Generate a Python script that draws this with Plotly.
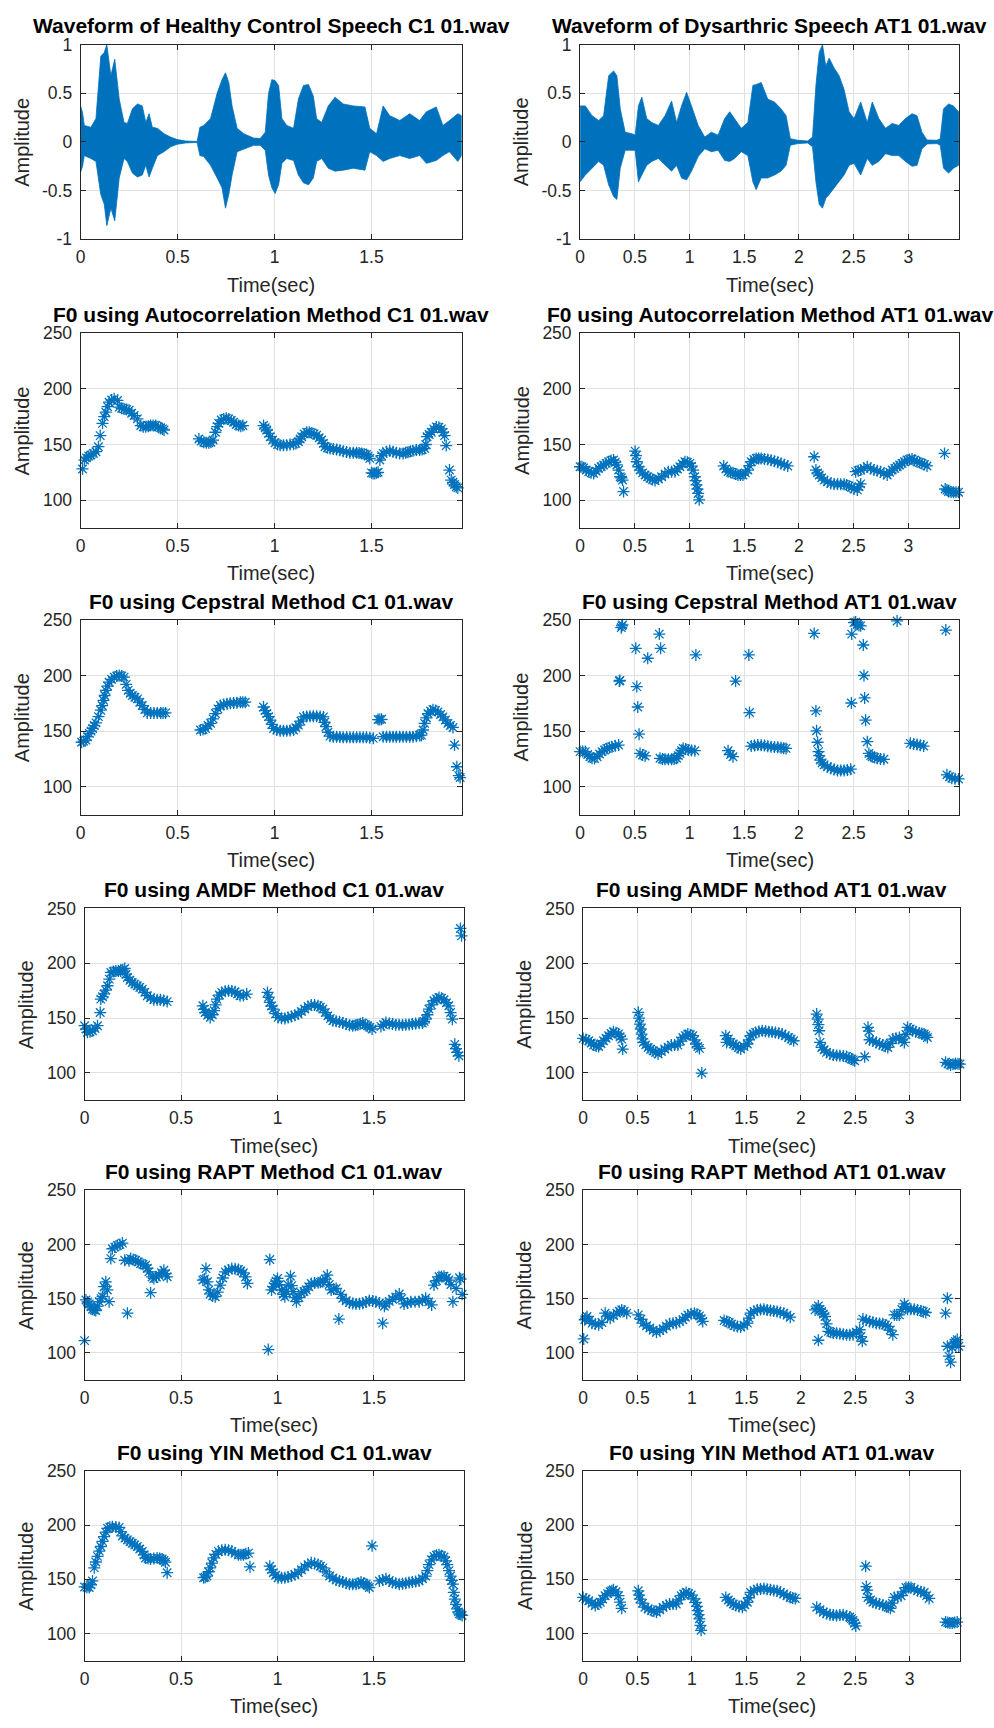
import plotly.graph_objects as go

BLUE = "#0072BD"
AXIS_COLOR = "#262626"
GRID_COLOR = "#e1e1e1"
FONT = "Liberation Sans, Arial, Helvetica, sans-serif"
W, H = 994, 1728

# ---- waveform envelopes: (time s, upper amplitude, lower amplitude) ----
wave_c1 = [
    (0.000, 0.37, -0.31), (0.010, 0.30, -0.25), (0.019, 0.17, -0.14), (0.053, 0.15, -0.17),
    (0.079, 0.24, -0.20), (0.104, 0.88, -0.54), (0.122, 0.92, -0.64), (0.135, 1.00, -0.86),
    (0.156, 0.68, -0.68), (0.176, 0.85, -0.81), (0.199, 0.44, -0.37), (0.224, 0.20, -0.17),
    (0.241, 0.19, -0.20), (0.267, 0.34, -0.32), (0.293, 0.39, -0.36), (0.318, 0.37, -0.34),
    (0.336, 0.20, -0.24), (0.353, 0.29, -0.36), (0.370, 0.15, -0.27), (0.396, 0.14, -0.14),
    (0.430, 0.085, -0.10), (0.464, 0.05, -0.05), (0.498, 0.024, -0.024), (0.541, 0.01, -0.01),
    (0.601, 0.005, -0.005), (0.615, 0.15, -0.14), (0.635, 0.17, -0.15), (0.670, 0.24, -0.24),
    (0.704, 0.50, -0.37), (0.729, 0.64, -0.47), (0.747, 0.71, -0.68), (0.764, 0.61, -0.54),
    (0.781, 0.37, -0.34), (0.807, 0.14, -0.10), (0.841, 0.085, -0.07), (0.892, 0.04, -0.035),
    (0.926, 0.035, -0.035), (0.952, 0.10, -0.085), (0.969, 0.50, -0.34), (0.986, 0.64, -0.47),
    (1.003, 0.63, -0.53), (1.021, 0.58, -0.44), (1.038, 0.24, -0.22), (1.063, 0.17, -0.17),
    (1.098, 0.14, -0.19), (1.123, 0.44, -0.34), (1.149, 0.58, -0.42), (1.175, 0.59, -0.44),
    (1.200, 0.47, -0.37), (1.217, 0.24, -0.20), (1.243, 0.20, -0.17), (1.277, 0.37, -0.27),
    (1.312, 0.46, -0.30), (1.354, 0.39, -0.29), (1.406, 0.37, -0.27), (1.466, 0.36, -0.29),
    (1.491, 0.14, -0.10), (1.526, 0.085, -0.14), (1.560, 0.37, -0.20), (1.594, 0.27, -0.17),
    (1.646, 0.22, -0.14), (1.697, 0.29, -0.17), (1.748, 0.22, -0.14), (1.783, 0.31, -0.22),
    (1.834, 0.36, -0.19), (1.868, 0.17, -0.14), (1.902, 0.22, -0.10), (1.945, 0.29, -0.20),
    (1.964, 0.27, -0.14),
]

wave_at1 = [
    (0.000, 0.37, -0.41), (0.048, 0.37, -0.34), (0.109, 0.27, -0.27), (0.170, 0.22, -0.20),
    (0.215, 0.27, -0.24), (0.261, 0.68, -0.44), (0.306, 0.73, -0.56), (0.336, 0.68, -0.59),
    (0.367, 0.34, -0.27), (0.412, 0.10, -0.085), (0.473, 0.085, -0.085), (0.503, 0.07, -0.085),
    (0.533, 0.37, -0.41), (0.564, 0.46, -0.34), (0.609, 0.24, -0.24), (0.655, 0.20, -0.20),
    (0.715, 0.17, -0.17), (0.776, 0.27, -0.24), (0.836, 0.42, -0.30), (0.882, 0.20, -0.24),
    (0.927, 0.37, -0.37), (0.973, 0.51, -0.39), (1.018, 0.37, -0.30), (1.079, 0.17, -0.15),
    (1.139, 0.05, -0.07), (1.200, 0.10, -0.10), (1.261, 0.07, -0.085), (1.321, 0.24, -0.19),
    (1.367, 0.31, -0.20), (1.412, 0.24, -0.17), (1.473, 0.14, -0.10), (1.533, 0.20, -0.14),
    (1.579, 0.58, -0.41), (1.609, 0.59, -0.49), (1.655, 0.61, -0.37), (1.715, 0.44, -0.37),
    (1.776, 0.41, -0.34), (1.836, 0.34, -0.30), (1.882, 0.27, -0.24), (1.921, 0.034, -0.034),
    (1.988, 0.017, -0.017), (2.079, 0.01, -0.01), (2.124, 0.05, -0.05), (2.155, 0.58, -0.41),
    (2.185, 0.92, -0.64), (2.215, 1.00, -0.68), (2.245, 0.78, -0.58), (2.276, 0.86, -0.54),
    (2.321, 0.76, -0.47), (2.367, 0.68, -0.41), (2.412, 0.54, -0.34), (2.458, 0.31, -0.24),
    (2.503, 0.24, -0.22), (2.564, 0.41, -0.34), (2.624, 0.20, -0.17), (2.670, 0.41, -0.24),
    (2.730, 0.24, -0.20), (2.791, 0.14, -0.12), (2.852, 0.19, -0.14), (2.912, 0.17, -0.14),
    (2.973, 0.24, -0.20), (3.033, 0.29, -0.25), (3.079, 0.27, -0.24), (3.124, 0.10, -0.07),
    (3.170, 0.02, -0.02), (3.261, 0.017, -0.017), (3.291, 0.034, -0.034), (3.321, 0.34, -0.27),
    (3.367, 0.39, -0.32), (3.412, 0.37, -0.27), (3.458, 0.31, -0.24),
]

# ---- F0 tracks: (time s, F0 Hz) ----
f0_c1_autocorr = [
    (0.010, 128), (0.020, 136), (0.030, 138), (0.042, 139.5), (0.053, 140.5), (0.066, 142),
    (0.079, 143.5), (0.092, 148), (0.101, 158), (0.113, 169), (0.122, 175), (0.130, 179),
    (0.139, 184), (0.147, 188), (0.160, 190), (0.173, 191), (0.190, 189.6), (0.199, 183.6),
    (0.212, 182.5), (0.224, 182), (0.237, 181.5), (0.250, 180.7), (0.263, 178), (0.276, 176),
    (0.293, 173), (0.310, 167), (0.323, 166), (0.336, 166), (0.349, 166.5), (0.361, 167),
    (0.374, 167), (0.387, 167), (0.400, 166), (0.413, 165), (0.422, 164), (0.430, 163),
    (0.610, 155), (0.622, 153), (0.635, 152), (0.648, 151.5), (0.661, 151.5), (0.672, 152),
    (0.683, 154), (0.695, 161), (0.705, 166), (0.712, 169), (0.725, 172), (0.738, 173),
    (0.751, 173.5), (0.764, 173), (0.777, 171.5), (0.789, 170), (0.802, 168), (0.815, 167),
    (0.826, 166.5), (0.837, 167),
    (0.943, 167), (0.952, 165), (0.960, 163), (0.969, 160), (0.978, 157), (0.990, 154),
    (1.003, 151.5), (1.016, 150), (1.029, 149.4), (1.046, 149.4), (1.063, 149.4), (1.080, 150),
    (1.098, 150.3), (1.110, 151), (1.123, 152.4), (1.132, 155), (1.140, 157), (1.153, 159.5),
    (1.166, 161), (1.179, 161), (1.192, 160.4), (1.204, 159.5), (1.217, 158.3), (1.230, 156),
    (1.243, 154), (1.252, 151), (1.260, 148), (1.273, 147), (1.286, 146.4), (1.303, 146),
    (1.320, 145.5), (1.337, 144.8), (1.354, 144), (1.371, 143.2), (1.389, 142.6), (1.406, 142.6),
    (1.423, 142.6), (1.436, 142.3), (1.449, 142), (1.462, 141.5), (1.474, 141), (1.483, 139.5),
    (1.491, 137.5), (1.500, 124.5), (1.508, 124), (1.517, 124), (1.526, 124.5), (1.534, 125),
    (1.543, 136), (1.552, 140), (1.560, 142), (1.577, 143.5), (1.594, 144.4), (1.611, 143.5),
    (1.628, 142.6), (1.645, 142), (1.663, 142), (1.676, 142.5), (1.688, 143), (1.701, 144),
    (1.714, 144.4), (1.731, 145), (1.748, 145), (1.761, 145.5), (1.774, 146.4), (1.780, 150),
    (1.786, 157), (1.797, 159), (1.808, 161), (1.821, 164), (1.834, 165.8), (1.847, 165.5),
    (1.860, 164), (1.869, 161), (1.877, 158), (1.885, 149), (1.902, 127), (1.911, 118),
    (1.920, 116), (1.928, 114), (1.937, 112), (1.945, 111),
]

f0_at1_autocorr = [
    (0.000, 130), (0.017, 130), (0.033, 129), (0.056, 127), (0.079, 125.6), (0.101, 124.5),
    (0.124, 124), (0.147, 126), (0.170, 128.6), (0.192, 130), (0.215, 131.6), (0.238, 133),
    (0.261, 134.5), (0.283, 135.5), (0.306, 136), (0.321, 134), (0.336, 131.6), (0.352, 127),
    (0.367, 121), (0.378, 120), (0.388, 118), (0.397, 107.7),
    (0.503, 144), (0.510, 140), (0.518, 134.5), (0.533, 130), (0.548, 127), (0.571, 124.5),
    (0.594, 122.6), (0.617, 121), (0.639, 119.7), (0.662, 118.5), (0.685, 117.6), (0.715, 119),
    (0.745, 121), (0.776, 123.5), (0.806, 125.6), (0.836, 125.6), (0.867, 125.6), (0.890, 128),
    (0.912, 130), (0.935, 132.5), (0.958, 134.5), (0.980, 134), (1.003, 133), (1.018, 130.5),
    (1.033, 127), (1.048, 121), (1.056, 117.5), (1.064, 113.7), (1.072, 110), (1.079, 106),
    (1.088, 100.3),
    (1.312, 130.7), (1.332, 128), (1.352, 125.6), (1.375, 125), (1.397, 124.7), (1.420, 123.5),
    (1.442, 122.6), (1.465, 122.6), (1.488, 122.6), (1.510, 124.5), (1.533, 127), (1.548, 131),
    (1.564, 134.5), (1.587, 136.5), (1.609, 137.5), (1.632, 137.5), (1.655, 137.5), (1.685, 137),
    (1.715, 136.6), (1.745, 135.8), (1.776, 135), (1.806, 134), (1.836, 133), (1.866, 131.8),
    (1.897, 130.7),
    (2.139, 139), (2.155, 127), (2.170, 124.5), (2.185, 122.6), (2.208, 120), (2.230, 118),
    (2.260, 116.5), (2.291, 115), (2.321, 114.6), (2.352, 114.3), (2.382, 114.3), (2.412, 114.3),
    (2.435, 113.5), (2.458, 112.8), (2.480, 111.5), (2.503, 110), (2.533, 109.2), (2.548, 112),
    (2.564, 114.6),
    (2.518, 125.6), (2.541, 126.5), (2.564, 127), (2.594, 128.5), (2.624, 130), (2.655, 128.5),
    (2.685, 127), (2.715, 126.3), (2.745, 125.6), (2.776, 124), (2.806, 122.6), (2.829, 125),
    (2.852, 127), (2.875, 128.5), (2.897, 130), (2.920, 131.5), (2.942, 133), (2.965, 134.5),
    (2.988, 136), (3.010, 136.5), (3.033, 137), (3.056, 135.8), (3.079, 134.5), (3.102, 133.8),
    (3.124, 133), (3.147, 132), (3.170, 130.7),
    (3.330, 142), (3.336, 110), (3.352, 109), (3.367, 107.7), (3.390, 107.3), (3.412, 107),
    (3.435, 107), (3.458, 107),
]

f0_c1_cepstral = [
    (0.005, 140), (0.016, 141), (0.027, 142), (0.036, 145), (0.045, 148), (0.054, 150),
    (0.062, 152.4), (0.070, 155), (0.079, 157.4), (0.092, 163), (0.104, 168.8), (0.111, 173),
    (0.118, 177.7), (0.124, 182), (0.130, 186.6), (0.139, 190.5), (0.147, 194), (0.160, 196.5),
    (0.173, 198.5), (0.186, 199.5), (0.199, 200), (0.212, 199.5), (0.224, 198.5), (0.235, 192),
    (0.245, 186.6), (0.256, 184), (0.267, 182), (0.280, 180.5), (0.293, 179), (0.305, 176),
    (0.318, 173), (0.331, 169.5), (0.344, 166.4), (0.361, 166.4), (0.378, 166.4), (0.395, 166.4),
    (0.413, 166.4), (0.425, 166.4), (0.438, 166.4),
    (0.618, 151), (0.631, 151.5), (0.644, 152.4), (0.657, 155), (0.670, 157), (0.683, 161),
    (0.695, 165.8), (0.708, 170), (0.721, 173), (0.738, 174), (0.755, 174.7), (0.772, 175),
    (0.789, 175.3), (0.806, 175.6), (0.824, 176), (0.836, 176), (0.849, 176),
    (0.943, 171.7), (0.952, 168.5), (0.960, 165.8), (0.969, 163), (0.978, 159.8), (0.986, 156),
    (0.995, 152.4), (1.012, 151), (1.029, 150.3), (1.046, 150.3), (1.063, 150.3), (1.080, 150.5),
    (1.098, 151), (1.110, 153), (1.123, 155.4), (1.136, 159), (1.149, 162.8), (1.166, 163.2),
    (1.183, 163.4), (1.200, 163.4), (1.217, 163.4), (1.235, 163.2), (1.252, 162.8), (1.258, 158),
    (1.265, 154), (1.275, 149), (1.286, 145.5), (1.303, 145), (1.320, 145), (1.337, 144.7),
    (1.354, 144.5), (1.372, 144.4), (1.389, 144.4), (1.406, 144.4), (1.423, 144.4), (1.440, 144.4),
    (1.457, 144.4), (1.474, 144.4), (1.491, 144), (1.509, 143.5), (1.534, 160.4), (1.543, 160.4),
    (1.552, 160.6), (1.560, 145), (1.577, 145), (1.594, 145), (1.611, 145), (1.628, 145),
    (1.645, 145), (1.663, 145), (1.680, 145), (1.697, 145), (1.714, 145), (1.731, 145.5),
    (1.748, 146), (1.757, 146.4), (1.766, 151), (1.774, 157), (1.783, 162), (1.791, 165.8),
    (1.804, 168), (1.817, 169.3), (1.830, 168.5), (1.843, 167.3), (1.856, 165), (1.868, 162.8),
    (1.881, 160), (1.894, 157), (1.907, 155), (1.920, 153.3), (1.928, 137.5), (1.940, 118),
    (1.950, 110), (1.957, 108.3),
]

f0_at1_cepstral = [
    (0.000, 131.6), (0.024, 131.6), (0.048, 131.6), (0.070, 129), (0.090, 127), (0.109, 125.6),
    (0.132, 125.5), (0.155, 127), (0.178, 129.5), (0.200, 131.6), (0.223, 133), (0.245, 134.5),
    (0.268, 135.3), (0.291, 136), (0.321, 136.8), (0.352, 137.5),
    (0.358, 195), (0.364, 195.5), (0.376, 243), (0.382, 244.6), (0.388, 245.5),
    (0.509, 224.4), (0.518, 190), (0.527, 171.7), (0.539, 147.3),
    (0.548, 130), (0.571, 128.5), (0.594, 127.7), (0.618, 215.5), (0.724, 237.2), (0.736, 224.4),
    (0.730, 125.6), (0.753, 125), (0.776, 124.7), (0.806, 124.7), (0.836, 124.7), (0.859, 125),
    (0.882, 125.6), (0.897, 128), (0.912, 130), (0.927, 132.5), (0.942, 134.5), (0.965, 134),
    (0.988, 133), (1.018, 132.7), (1.048, 132.4), (1.058, 218.5),
    (1.352, 132.4), (1.375, 129), (1.397, 127), (1.421, 195), (1.542, 218.5), (1.548, 166.7),
    (1.564, 136.6), (1.594, 137), (1.624, 137.5), (1.655, 137.3), (1.685, 137), (1.715, 136.5),
    (1.745, 136), (1.776, 135.7), (1.806, 135.4), (1.836, 135), (1.860, 134.7), (1.882, 134.5),
    (2.139, 237.8), (2.155, 168.2), (2.161, 150.3), (2.170, 140), (2.179, 131.6), (2.185, 128),
    (2.194, 124), (2.212, 121.5), (2.230, 119.7), (2.260, 118), (2.291, 116.7), (2.321, 115.5),
    (2.352, 114.6), (2.382, 114.6), (2.412, 114.6), (2.442, 115), (2.473, 115.8),
    (2.479, 175.3), (2.482, 237.2), (2.503, 247.6), (2.518, 248), (2.533, 246), (2.548, 245),
    (2.564, 244.6), (2.588, 227.4), (2.594, 200), (2.600, 179.8), (2.609, 159.8), (2.624, 140.5),
    (2.639, 130), (2.655, 128), (2.670, 127), (2.692, 126.3), (2.715, 125.6), (2.745, 125),
    (2.776, 124.7), (2.897, 249),
    (3.018, 139), (3.048, 138.5), (3.079, 138), (3.109, 137.3), (3.139, 136.6),
    (3.342, 240.8), (3.352, 110.7), (3.375, 109), (3.397, 107.7), (3.427, 107.3), (3.458, 107),
]

f0_c1_amdf = [
    (0.000, 143), (0.008, 140), (0.015, 137), (0.028, 137.5), (0.041, 138.4), (0.054, 140.5),
    (0.067, 143), (0.081, 155), (0.084, 167.3), (0.093, 169.5), (0.101, 172), (0.110, 175.5),
    (0.119, 179.5), (0.128, 185.5), (0.136, 191.6), (0.149, 192.5), (0.162, 193), (0.175, 193),
    (0.187, 193), (0.198, 194), (0.208, 195.3), (0.215, 190), (0.222, 187), (0.235, 184.5),
    (0.247, 182.5), (0.260, 181), (0.273, 179.5), (0.286, 178), (0.299, 176.4), (0.312, 173.5),
    (0.325, 170.4), (0.342, 168.5), (0.359, 166.7), (0.376, 166.7), (0.393, 166.7), (0.410, 166),
    (0.428, 165),
    (0.613, 161.2), (0.619, 158), (0.625, 155), (0.638, 152.5), (0.651, 150.6), (0.662, 153),
    (0.672, 156.7), (0.679, 162), (0.686, 167.3), (0.699, 171), (0.711, 173.4), (0.729, 174.5),
    (0.746, 175), (0.763, 174.8), (0.780, 174), (0.793, 172), (0.806, 170.4), (0.823, 170.5),
    (0.840, 171.9),
    (0.948, 173.4), (0.954, 169), (0.960, 164.3), (0.969, 161), (0.978, 158.2), (0.990, 154),
    (1.003, 150.6), (1.021, 149.8), (1.038, 149.7), (1.055, 150.5), (1.072, 151.5), (1.090, 152.5),
    (1.107, 153.6), (1.124, 156), (1.141, 158.2), (1.158, 160.5), (1.175, 161.8), (1.192, 161.8),
    (1.210, 161.2), (1.222, 160), (1.235, 158.2), (1.248, 155), (1.261, 152), (1.274, 149.5),
    (1.287, 147.6), (1.304, 147), (1.321, 146.6), (1.338, 145.5), (1.356, 144.5), (1.373, 143.5),
    (1.390, 143), (1.403, 143.5), (1.416, 144), (1.429, 144.8), (1.442, 145.4), (1.455, 144),
    (1.467, 143), (1.479, 141.5), (1.490, 140),
    (1.536, 142.4), (1.549, 144), (1.562, 146), (1.579, 145), (1.596, 144.5), (1.613, 144),
    (1.630, 143.8), (1.648, 143.6), (1.665, 143.8), (1.682, 144.2), (1.699, 144.5), (1.716, 145),
    (1.734, 145.2), (1.751, 145.4), (1.760, 147), (1.768, 149), (1.777, 153), (1.785, 158.2),
    (1.798, 162), (1.811, 165.8), (1.824, 167.5), (1.837, 168.8), (1.850, 168), (1.863, 166.7),
    (1.876, 164), (1.888, 161.2), (1.897, 155), (1.906, 149), (1.919, 126), (1.925, 122),
    (1.931, 118.7), (1.940, 115.6), (1.948, 231.8), (1.954, 225),
]

f0_at1_amdf = [
    (0.000, 131.4), (0.026, 130.5), (0.052, 129.3), (0.075, 127.3), (0.097, 125.3), (0.120, 124.5),
    (0.143, 124.1), (0.165, 126.5), (0.188, 129.3), (0.211, 131.5), (0.234, 133.9), (0.256, 136),
    (0.279, 137.5), (0.302, 136.5), (0.325, 135.4), (0.340, 133), (0.355, 130.8), (0.364, 121.7),
    (0.507, 155.2), (0.515, 150), (0.522, 144.5), (0.530, 140), (0.537, 135.4), (0.545, 131),
    (0.553, 127.8), (0.575, 125.5), (0.598, 123.2), (0.621, 121.5), (0.644, 120.2), (0.666, 118.7),
    (0.689, 117.2), (0.719, 119.5), (0.750, 121.7), (0.780, 123.5), (0.811, 125.3), (0.841, 125.3),
    (0.871, 125.3), (0.894, 129), (0.917, 132.3), (0.940, 134), (0.962, 135.4), (0.985, 134.8),
    (1.008, 133.9), (1.023, 130), (1.038, 126.3), (1.054, 124), (1.069, 122.3), (1.090, 99.8),
    (1.311, 133.9), (1.318, 127.8), (1.334, 131), (1.357, 127.8), (1.380, 126.3), (1.403, 124.8),
    (1.425, 123), (1.448, 121.7), (1.478, 124), (1.509, 126.3), (1.524, 130), (1.539, 133.9),
    (1.562, 135.5), (1.585, 136.9), (1.615, 137.7), (1.645, 138.4), (1.676, 138), (1.706, 137.5),
    (1.736, 137.2), (1.767, 136.9), (1.797, 136.2), (1.828, 135.4), (1.858, 133.8), (1.888, 132.3),
    (1.911, 130.8), (1.934, 129.3),
    (2.146, 153.6), (2.155, 149), (2.161, 144), (2.168, 138.4), (2.177, 127.8), (2.192, 123.2),
    (2.214, 121), (2.237, 118.7), (2.268, 117.3), (2.298, 116.2), (2.329, 115.9), (2.359, 115.6),
    (2.390, 115.3), (2.420, 115), (2.443, 113.8), (2.465, 112.6), (2.480, 111.8), (2.495, 111.1),
    (2.587, 114.7),
    (2.617, 141.5), (2.625, 138), (2.632, 130.2), (2.662, 129), (2.693, 127.8), (2.723, 126.5),
    (2.753, 125.3), (2.776, 124.2), (2.799, 123.2), (2.822, 127), (2.845, 130.8), (2.875, 131.5),
    (2.905, 132.3), (2.930, 130), (2.951, 127.8), (2.966, 135), (2.981, 141.5), (3.004, 140),
    (3.027, 138.4), (3.057, 137.4), (3.087, 136.3), (3.110, 135.8), (3.133, 135.4), (3.148, 134),
    (3.163, 132.3),
    (3.330, 109.6), (3.353, 108.3), (3.376, 107.1), (3.398, 107.8), (3.421, 108.6), (3.444, 108.3),
    (3.462, 108),
]

f0_c1_rapt = [
    (0.000, 111.3), (0.007, 148.8), (0.015, 147), (0.024, 145), (0.033, 142.5), (0.041, 140.2),
    (0.050, 139.5), (0.058, 139), (0.067, 143), (0.076, 147.2), (0.085, 150), (0.093, 151.8),
    (0.101, 161), (0.110, 165.5), (0.118, 158), (0.127, 147.2), (0.136, 186.9), (0.144, 196),
    (0.157, 197.5), (0.170, 199), (0.183, 200), (0.196, 201.2), (0.208, 185.4), (0.222, 136.6),
    (0.230, 185), (0.239, 186.9), (0.252, 186), (0.265, 185.4), (0.278, 184), (0.290, 182.3),
    (0.303, 181.5), (0.316, 180.8), (0.325, 178), (0.333, 174.7), (0.342, 155.5), (0.350, 170),
    (0.359, 168.6), (0.372, 170), (0.385, 171.6), (0.398, 174), (0.411, 176.2), (0.420, 173),
    (0.428, 170.1),
    (0.613, 167.1), (0.621, 168), (0.629, 177.7), (0.637, 165.5), (0.644, 158), (0.651, 154.3),
    (0.664, 152.5), (0.677, 151.8), (0.690, 156), (0.703, 162.5), (0.716, 169), (0.729, 174.7),
    (0.746, 176.5), (0.763, 177.7), (0.780, 177.5), (0.797, 176.8), (0.810, 175.5), (0.823, 173.8),
    (0.834, 170), (0.844, 164),
    (0.952, 103), (0.960, 186), (0.969, 158), (0.978, 161), (0.986, 164), (0.993, 166),
    (1.000, 168.6), (1.010, 163), (1.021, 158), (1.030, 154), (1.038, 151.8), (1.046, 157),
    (1.055, 162.5), (1.067, 170.7), (1.074, 162), (1.081, 156.4), (1.090, 151), (1.098, 147.2),
    (1.111, 151), (1.124, 154.9), (1.137, 156.5), (1.149, 158), (1.162, 161), (1.175, 164),
    (1.192, 164.3), (1.210, 164.6), (1.222, 165), (1.235, 165.5), (1.247, 168), (1.258, 171.6),
    (1.268, 163), (1.278, 158), (1.291, 158.8), (1.304, 159.4), (1.318, 131.1), (1.328, 154),
    (1.338, 150.3), (1.356, 148), (1.373, 146.3), (1.390, 145.5), (1.407, 145.1), (1.425, 145.3),
    (1.442, 145.7), (1.459, 147), (1.476, 148.2), (1.493, 147.8), (1.510, 147.2), (1.528, 146),
    (1.545, 127.4), (1.554, 143), (1.562, 145.1), (1.579, 147.5), (1.596, 149.4), (1.613, 151.5),
    (1.631, 154.3), (1.643, 150), (1.656, 145.1), (1.674, 146), (1.691, 147.2), (1.713, 147.2),
    (1.734, 147.2), (1.751, 148.5), (1.768, 150.3), (1.784, 147), (1.799, 144.2), (1.811, 162.5),
    (1.824, 166.5), (1.837, 170.1), (1.850, 170.5), (1.863, 170.7), (1.876, 169), (1.888, 167.1),
    (1.899, 163), (1.909, 147.2), (1.926, 159.4), (1.943, 169.2), (1.950, 168), (1.957, 154),
]

f0_at1_rapt = [
    (0.006, 112.8), (0.015, 130.5), (0.025, 132), (0.036, 133.5), (0.059, 130), (0.082, 127.4),
    (0.112, 126.5), (0.143, 125.9), (0.173, 128), (0.203, 136.6), (0.226, 134), (0.249, 132),
    (0.280, 134.5), (0.310, 136.6), (0.333, 138.3), (0.355, 139.6), (0.378, 138.5), (0.401, 136.6),
    (0.507, 135), (0.530, 131), (0.553, 127.4), (0.583, 125), (0.613, 122.9), (0.644, 120.8),
    (0.674, 118.9), (0.705, 120.5), (0.735, 122), (0.765, 124.5), (0.795, 126.8), (0.826, 127.2),
    (0.856, 127.4), (0.886, 129), (0.917, 130.5), (0.940, 132.8), (0.962, 135), (0.993, 136),
    (1.023, 136.6), (1.046, 135.5), (1.069, 134.1), (1.084, 131.5), (1.099, 129),
    (1.296, 129.9), (1.319, 129), (1.342, 128), (1.365, 126.5), (1.387, 125), (1.418, 124.2),
    (1.448, 123.8), (1.478, 125.5), (1.509, 127.4), (1.524, 132), (1.539, 136.6), (1.570, 138.2),
    (1.600, 139.6), (1.630, 140), (1.661, 140.2), (1.691, 139.6), (1.721, 139), (1.752, 138.5),
    (1.782, 138.1), (1.812, 137.3), (1.843, 136.6), (1.873, 134.8), (1.903, 132.9),
    (2.131, 139.6), (2.146, 141), (2.161, 143.3), (2.161, 111.6), (2.176, 140), (2.192, 138.1),
    (2.207, 135.8), (2.222, 133.5), (2.237, 126.8), (2.253, 119.8), (2.275, 119), (2.298, 118.3),
    (2.329, 118), (2.359, 117.7), (2.390, 117.2), (2.420, 116.8), (2.450, 116.8), (2.480, 116.8),
    (2.511, 119), (2.541, 121.3), (2.553, 115), (2.565, 110.7),
    (2.571, 131.1), (2.601, 130), (2.632, 129), (2.662, 128.2), (2.693, 127.4), (2.723, 127),
    (2.753, 126.8), (2.776, 125.6), (2.799, 124.4), (2.822, 121), (2.845, 116.8), (2.860, 135),
    (2.882, 135), (2.905, 135), (2.928, 140), (2.951, 145.1), (2.966, 142.5), (2.981, 140.2),
    (3.011, 140.2), (3.042, 140.2), (3.072, 139.5), (3.103, 138.7), (3.126, 138), (3.148, 137.2),
    (3.330, 136.6), (3.346, 150.3), (3.346, 106.1), (3.361, 97), (3.376, 91.4), (3.391, 105),
    (3.406, 109.1), (3.421, 110.5), (3.437, 112.2), (3.452, 106.1),
]

f0_c1_yin = [
    (0.000, 143), (0.012, 142.7), (0.024, 142.4), (0.033, 145), (0.041, 148.5), (0.050, 160.6),
    (0.058, 166), (0.067, 171.2), (0.076, 176), (0.084, 180.3), (0.093, 185), (0.101, 189.4),
    (0.110, 193.5), (0.119, 197), (0.131, 198), (0.144, 198.5), (0.162, 198.3), (0.179, 197.9),
    (0.188, 194), (0.196, 190), (0.209, 188), (0.222, 186.4), (0.235, 184.8), (0.247, 183.3),
    (0.260, 181.8), (0.273, 180.3), (0.286, 178), (0.299, 175.8), (0.308, 172.5), (0.316, 169.7),
    (0.329, 169.2), (0.342, 168.8), (0.359, 169.2), (0.376, 169.7), (0.389, 169.2), (0.402, 168.8),
    (0.411, 167.3), (0.419, 165.8), (0.428, 156.1),
    (0.617, 151.5), (0.625, 152), (0.634, 153), (0.643, 157), (0.651, 160.6), (0.660, 165),
    (0.668, 169.7), (0.681, 173), (0.694, 175.8), (0.711, 176.8), (0.729, 177.3), (0.746, 176.8),
    (0.763, 175.8), (0.780, 174.2), (0.797, 172.7), (0.810, 172.7), (0.823, 172.7), (0.836, 173.5),
    (0.849, 174.2), (0.857, 161.5),
    (0.960, 162.1), (0.969, 159), (0.978, 156.1), (0.990, 153.8), (1.003, 151.5), (1.021, 151.5),
    (1.038, 151.5), (1.055, 152.2), (1.072, 153), (1.090, 154.5), (1.107, 156.1), (1.124, 158.8),
    (1.141, 161.5), (1.158, 163.5), (1.175, 165.2), (1.192, 164.5), (1.210, 163.6), (1.222, 162),
    (1.235, 160.6), (1.252, 156.8), (1.270, 153), (1.287, 151.2), (1.304, 149.4), (1.321, 148.5),
    (1.338, 147.6), (1.356, 146.5), (1.373, 145.5), (1.390, 145.5), (1.407, 145.5), (1.420, 146.5),
    (1.433, 147.6), (1.446, 146.5), (1.459, 145.5), (1.468, 144), (1.476, 142.4), (1.490, 180.9),
    (1.528, 148.5), (1.545, 149.5), (1.562, 150.6), (1.579, 148.8), (1.596, 147), (1.613, 146.3),
    (1.631, 145.5), (1.648, 146), (1.665, 146.5), (1.682, 147), (1.699, 147.5), (1.716, 148),
    (1.734, 148.5), (1.751, 150.5), (1.768, 153), (1.777, 158), (1.785, 163.6), (1.798, 168),
    (1.811, 171.2), (1.824, 172.2), (1.837, 172.7), (1.850, 171.8), (1.863, 170.6), (1.872, 167),
    (1.880, 163.6), (1.889, 158), (1.897, 153), (1.903, 149), (1.909, 145.5), (1.914, 138),
    (1.919, 131.8), (1.925, 127), (1.931, 122.7), (1.937, 120), (1.943, 118.2), (1.950, 117.5),
    (1.957, 116.7),
]

f0_at1_yin = [
    (0.000, 133.3), (0.026, 131.8), (0.052, 130.3), (0.082, 128), (0.112, 125.8), (0.135, 127.2),
    (0.158, 128.8), (0.180, 131.8), (0.203, 134.9), (0.226, 136.8), (0.249, 138.5), (0.264, 139.4),
    (0.279, 140.3), (0.302, 138.5), (0.325, 134.9), (0.340, 129), (0.355, 123.3),
    (0.507, 139.4), (0.515, 135.5), (0.522, 131.8), (0.545, 128), (0.568, 124.3), (0.598, 122.7),
    (0.628, 121.2), (0.651, 120.5), (0.674, 119.7), (0.704, 122), (0.735, 124.3), (0.765, 125.8),
    (0.795, 127.3), (0.826, 127.3), (0.856, 127.3), (0.879, 131), (0.902, 134.9), (0.924, 136.4),
    (0.947, 137.9), (0.970, 136.8), (0.993, 135.5), (1.015, 132), (1.038, 128.8), (1.046, 125),
    (1.053, 121.2), (1.061, 117.5), (1.069, 113.6), (1.078, 107.6), (1.084, 103),
    (1.311, 133.3), (1.334, 131), (1.357, 128.8), (1.380, 127.3), (1.403, 125.8), (1.433, 125),
    (1.463, 124.3), (1.486, 126.5), (1.509, 128.8), (1.524, 133), (1.539, 137.9), (1.570, 139.5),
    (1.600, 140.9), (1.630, 141.2), (1.661, 141.5), (1.691, 140.9), (1.721, 140.3), (1.752, 139.8),
    (1.782, 139.4), (1.812, 138), (1.843, 136.4), (1.873, 134.9), (1.903, 133.3), (1.926, 132.8),
    (1.949, 132.4),
    (2.146, 124.3), (2.176, 122), (2.207, 119.7), (2.237, 118.5), (2.268, 117.3), (2.298, 117),
    (2.328, 116.7), (2.359, 117), (2.389, 117.3), (2.420, 116.3), (2.450, 115.2), (2.465, 113.8),
    (2.480, 112.1), (2.493, 109.5), (2.505, 107),
    (2.596, 162.1), (2.602, 143.3), (2.609, 140), (2.617, 133.3), (2.640, 131), (2.662, 128.8),
    (2.692, 128), (2.723, 127.3), (2.753, 126.2), (2.784, 125.2), (2.803, 124.2), (2.823, 123.3),
    (2.841, 128), (2.860, 133.3), (2.890, 134), (2.921, 134.9), (2.944, 138.5), (2.966, 142.4),
    (2.989, 142.4), (3.012, 142.4), (3.042, 141), (3.073, 139.4), (3.103, 138.6), (3.133, 137.9),
    (3.156, 135), (3.179, 132.4),
    (3.330, 110.6), (3.350, 110.2), (3.370, 109.7), (3.391, 109.7), (3.414, 110.2), (3.437, 110.6),
]

# ---- axis ticks ----
wave_yticks = [-1, -0.5, 0, 0.5, 1]
wave_yticktext = ["-1", "-0.5", "0", "0.5", "1"]
f0_yticks = [100, 150, 200, 250]
c1_xticks = [0, 0.5, 1, 1.5]
at1_xticks = [0, 0.5, 1, 1.5, 2, 2.5, 3]
C1_DURATION = 1.965
AT1_DURATION = 3.464

# ---- panel geometry in page pixels ----
ROW_Y = [(35, 232), (327, 524), (617, 814), (909, 1103), (1194, 1386), (1478, 1670)]
LEFT_X = [(76, 459)] * 3 + [(80, 461)] * 3
RIGHT_X = [(578, 959)] * 3 + [(581, 960)] * 3

panels = [
    ("Waveform of Healthy Control Speech C1 01.wav", "wave", wave_c1),
    ("Waveform of Dysarthric Speech AT1 01.wav", "wave", wave_at1),
    ("F0 using Autocorrelation Method C1 01.wav", "f0", f0_c1_autocorr),
    ("F0 using Autocorrelation Method AT1 01.wav", "f0", f0_at1_autocorr),
    ("F0 using Cepstral Method C1 01.wav", "f0", f0_c1_cepstral),
    ("F0 using Cepstral Method AT1 01.wav", "f0", f0_at1_cepstral),
    ("F0 using AMDF Method C1 01.wav", "f0", f0_c1_amdf),
    ("F0 using AMDF Method AT1 01.wav", "f0", f0_at1_amdf),
    ("F0 using RAPT Method C1 01.wav", "f0", f0_c1_rapt),
    ("F0 using RAPT Method AT1 01.wav", "f0", f0_at1_rapt),
    ("F0 using YIN Method C1 01.wav", "f0", f0_c1_yin),
    ("F0 using YIN Method AT1 01.wav", "f0", f0_at1_yin),
]


def fmt(v):
    return f"{v:g}"


fig = go.Figure()
layout = dict(
    width=W, height=H,
    margin=dict(l=0, r=0, t=0, b=0),
    paper_bgcolor="white", plot_bgcolor="white",
    showlegend=False,
    font=dict(family=FONT, color=AXIS_COLOR),
)
annotations = []

axis_common = dict(
    showline=True, linecolor=AXIS_COLOR, linewidth=1, mirror="ticks",
    ticks="inside", ticklen=5, tickwidth=1, tickcolor=AXIS_COLOR,
    showgrid=True, gridcolor=GRID_COLOR, gridwidth=1, zeroline=False,
    tickfont=dict(family=FONT, size=17.5, color=AXIS_COLOR),
    fixedrange=True,
)

for i, (title, kind, data) in enumerate(panels):
    n = i + 1
    row, col = divmod(i, 2)
    y0, y1 = ROW_Y[row]
    x0, x1 = (LEFT_X if col == 0 else RIGHT_X)[row]
    xname = "x" if n == 1 else f"x{n}"
    yname = "y" if n == 1 else f"y{n}"

    xticks = c1_xticks if col == 0 else at1_xticks
    xend = C1_DURATION if col == 0 else AT1_DURATION
    if kind == "wave":
        yticks, ytext, yrange = wave_yticks, wave_yticktext, [-1, 1]
    else:
        yticks, ytext, yrange = f0_yticks, [fmt(v) for v in f0_yticks], [75, 250]

    layout[f"xaxis{n}"] = dict(
        axis_common, domain=[x0 / W, x1 / W], range=[0, xend], anchor=yname,
        tickmode="array", tickvals=xticks, ticktext=[fmt(v) for v in xticks],
        ticklabelstandoff=2,
    )
    layout[f"yaxis{n}"] = dict(
        axis_common, domain=[1 - y1 / H, 1 - y0 / H], range=yrange, anchor=xname,
        tickmode="array", tickvals=yticks, ticktext=ytext,
        ticklabelstandoff=4,
    )

    if kind == "wave":
        ts = [p[0] for p in data]
        up = [p[1] for p in data]
        lo = [p[2] for p in data]
        fig.add_trace(go.Scatter(
            x=ts + ts[::-1], y=up + lo[::-1], mode="lines", fill="toself",
            fillcolor=BLUE, line=dict(color=BLUE, width=0.8),
            xaxis=xname, yaxis=yname, hoverinfo="skip",
        ))
    else:
        fig.add_trace(go.Scatter(
            x=[p[0] for p in data], y=[p[1] for p in data], mode="markers",
            marker=dict(symbol="asterisk-open", size=10, color=BLUE,
                        line=dict(color=BLUE, width=1.3)),
            cliponaxis=False, xaxis=xname, yaxis=yname,
        ))

    cx = (x0 + x1) / 2 / W
    cy = 1 - (y0 + y1) / 2 / H
    annotations.append(dict(
        text=f"<b>{title}</b>", x=cx, y=1 - (y0 - 19) / H, xref="paper", yref="paper",
        xanchor="center", yanchor="middle", showarrow=False,
        font=dict(family=FONT, size=21, color="black"),
    ))
    annotations.append(dict(
        text="Time(sec)", x=cx, y=1 - (y1 + 46) / H, xref="paper", yref="paper",
        xanchor="center", yanchor="middle", showarrow=False,
        font=dict(family=FONT, size=20, color=AXIS_COLOR),
    ))
    annotations.append(dict(
        text="Amplitude", x=(x0 - 59) / W, y=cy, xref="paper", yref="paper",
        xanchor="center", yanchor="middle", textangle=-90, showarrow=False,
        font=dict(family=FONT, size=20, color=AXIS_COLOR),
    ))

layout["annotations"] = annotations
fig.update_layout(**layout)
fig.write_html("out.html")
